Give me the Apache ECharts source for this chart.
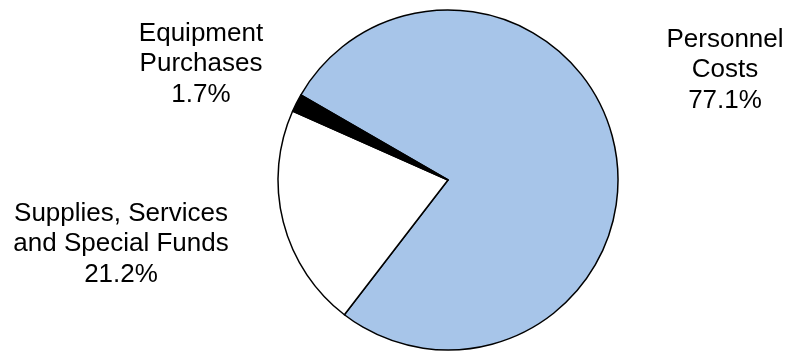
<!DOCTYPE html>
<html>
<head>
<meta charset="utf-8">
<script src="https://cdn.jsdelivr.net/npm/echarts@6/dist/echarts.min.js"></script>
<style>
  html, body { margin: 0; padding: 0; background: #fff; }
  #chart { width: 788px; height: 351px; }
</style>
</head>
<body>
<div id="chart"></div>
<script>
// Budget shares by spending category (percent)
const categories = ['Personnel\nCosts', 'Supplies, Services\nand Special Funds', 'Equipment\nPurchases'];
const shares = [77.1, 21.2, 1.7];
const sliceColors = ['#A7C5E9', '#FFFFFF', '#000000'];

// Label anchor points (block centres) for each category
const labelAnchors = [[725, 70], [121, 244], [201, 64]];

const chart = echarts.init(document.getElementById('chart'), null, { renderer: 'canvas' });

chart.setOption({
  animation: false,
  backgroundColor: '#ffffff',
  series: [{
    type: 'pie',
    center: [448, 180],
    radius: [0, 170],
    startAngle: 150,
    clockwise: true,
    avoidLabelOverlap: false,
    data: categories.map((c, i) => ({
      name: c,
      value: shares[i],
      itemStyle: { color: sliceColors[i] }
    })),
    itemStyle: { borderColor: '#000000', borderWidth: 1.5 },
    label: {
      show: true,
      position: 'outside',
      formatter: p => p.name + '\n' + p.value.toFixed(1) + '%',
      fontFamily: 'Liberation Sans, Arial, sans-serif',
      fontSize: 26,
      lineHeight: 30.5,
      color: '#000000',
      align: 'center'
    },
    labelLine: { show: false },
    labelLayout: p => ({
      x: labelAnchors[p.dataIndex][0],
      y: labelAnchors[p.dataIndex][1],
      align: 'center',
      verticalAlign: 'middle'
    }),
    emphasis: { disabled: true }
  }]
});
</script>
</body>
</html>
